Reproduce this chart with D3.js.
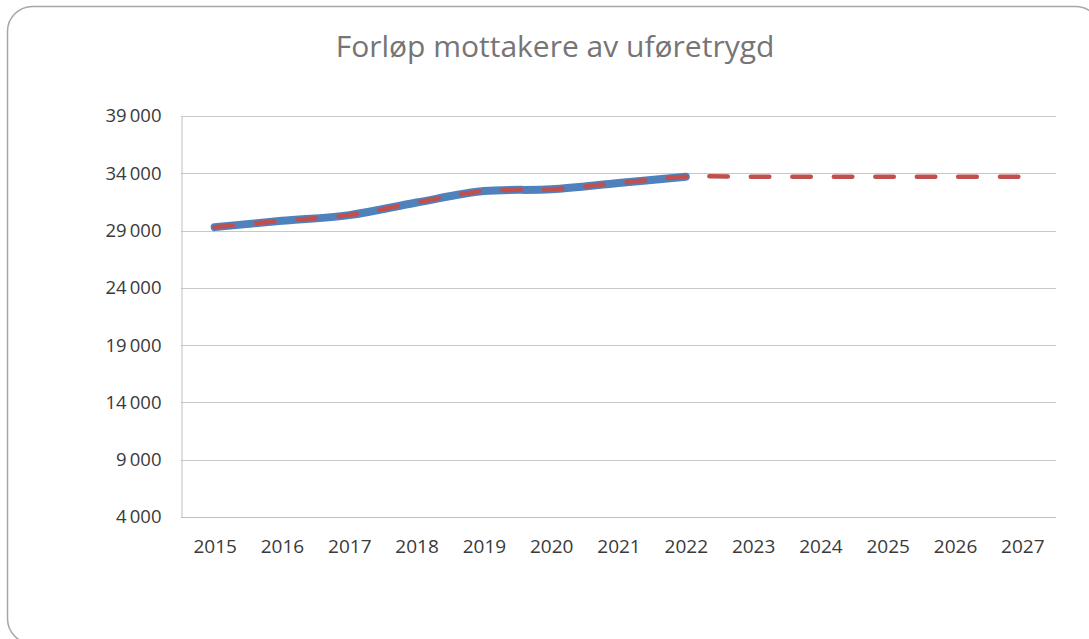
<!DOCTYPE html>
<html>
<head>
<meta charset="utf-8">
<script src="https://cdn.jsdelivr.net/npm/d3@7"></script>
<style>
  body { margin: 0; background: #fff; }
  svg { display: block; }
</style>
</head>
<body>
<svg id="chart" width="1089" height="639"></svg>
<script>
// data
var years = ["2015", "2016", "2017", "2018", "2019", "2020", "2021", "2022",
             "2023", "2024", "2025", "2026", "2027"];
var actual = [29300, 29850, 30350, 31450, 32450, 32600, 33150, 33700];
var forecast = [29300, 29850, 30350, 31450, 32450, 32600, 33150, 33700,
                33700, 33700, 33700, 33700, 33700];
var yTicks = [4000, 9000, 14000, 19000, 24000, 29000, 34000, 39000];

var svg = d3.select("#chart");

// frame
svg.append("rect")
    .attr("x", 7.5)
    .attr("y", 6.5)
    .attr("width", 1093)
    .attr("height", 637)
    .attr("rx", 25)
    .attr("fill", "white")
    .attr("stroke", "#a6a6a6")
    .attr("stroke-width", 1.5);

// title
svg.append("text")
    .attr("x", 555)
    .attr("y", 57)
    .attr("text-anchor", "middle")
    .attr("font-family", "Open Sans")
    .attr("font-size", 30)
    .attr("fill", "#757575")
    .text("Forløp mottakere av uføretrygd");

var plotLeft = 181, plotRight = 1056, plotTop = 116, plotBottom = 517;

var x = d3.scalePoint()
    .domain(years)
    .range([plotLeft, plotRight])
    .padding(0.5);

var y = d3.scaleLinear()
    .domain([4000, 39000])
    .range([plotBottom, plotTop]);

var fmt = d3.formatLocale({decimal: ",", thousands: "\u2009", grouping: [3], currency: ["", " kr"]}).format(",");

// gridlines
svg.append("g")
    .selectAll("line")
    .data(yTicks.slice(1))
    .join("line")
    .attr("x1", plotLeft)
    .attr("x2", plotRight)
    .attr("y1", function(d) { return Math.round(y(d)) + 0.5; })
    .attr("y2", function(d) { return Math.round(y(d)) + 0.5; })
    .attr("stroke", "#c8c8c8")
    .attr("stroke-width", 1);

// y axis
var yAxis = svg.append("g")
    .attr("transform", "translate(" + (plotLeft + 0.5) + ",0)")
    .call(d3.axisLeft(y).tickValues(yTicks).tickFormat(fmt).tickSize(0).tickPadding(20));
yAxis.select(".domain").attr("stroke", "#bfbfbf");
yAxis.selectAll("text")
    .attr("font-family", "Open Sans")
    .attr("font-size", 18.5)
    .attr("fill", "#3a3a3a");

// x axis
var xAxis = svg.append("g")
    .attr("transform", "translate(0," + (plotBottom + 0.5) + ")")
    .call(d3.axisBottom(x).tickSize(0).tickPadding(22));
xAxis.select(".domain").attr("stroke", "#bfbfbf").attr("d", "M" + plotLeft + ",0H" + plotRight);
xAxis.selectAll("text")
    .attr("font-family", "Open Sans")
    .attr("font-size", 19)
    .attr("fill", "#3a3a3a");

var line = d3.line()
    .x(function(d, i) { return x(years[i]); })
    .y(function(d) { return y(d); })
    .curve(d3.curveCatmullRom.alpha(0.5));

// actual values, thick blue
svg.append("path")
    .datum(actual)
    .attr("d", line)
    .attr("fill", "none")
    .attr("stroke", "#4f81bd")
    .attr("stroke-width", 8)
    .attr("stroke-linecap", "round");

// forecast, red dashed
svg.append("path")
    .datum(forecast)
    .attr("d", line)
    .attr("fill", "none")
    .attr("stroke", "#c0504d")
    .attr("stroke-width", 4.5)
    .attr("stroke-linecap", "round")
    .attr("stroke-dasharray", "18.5,23");
</script>
</body>
</html>
